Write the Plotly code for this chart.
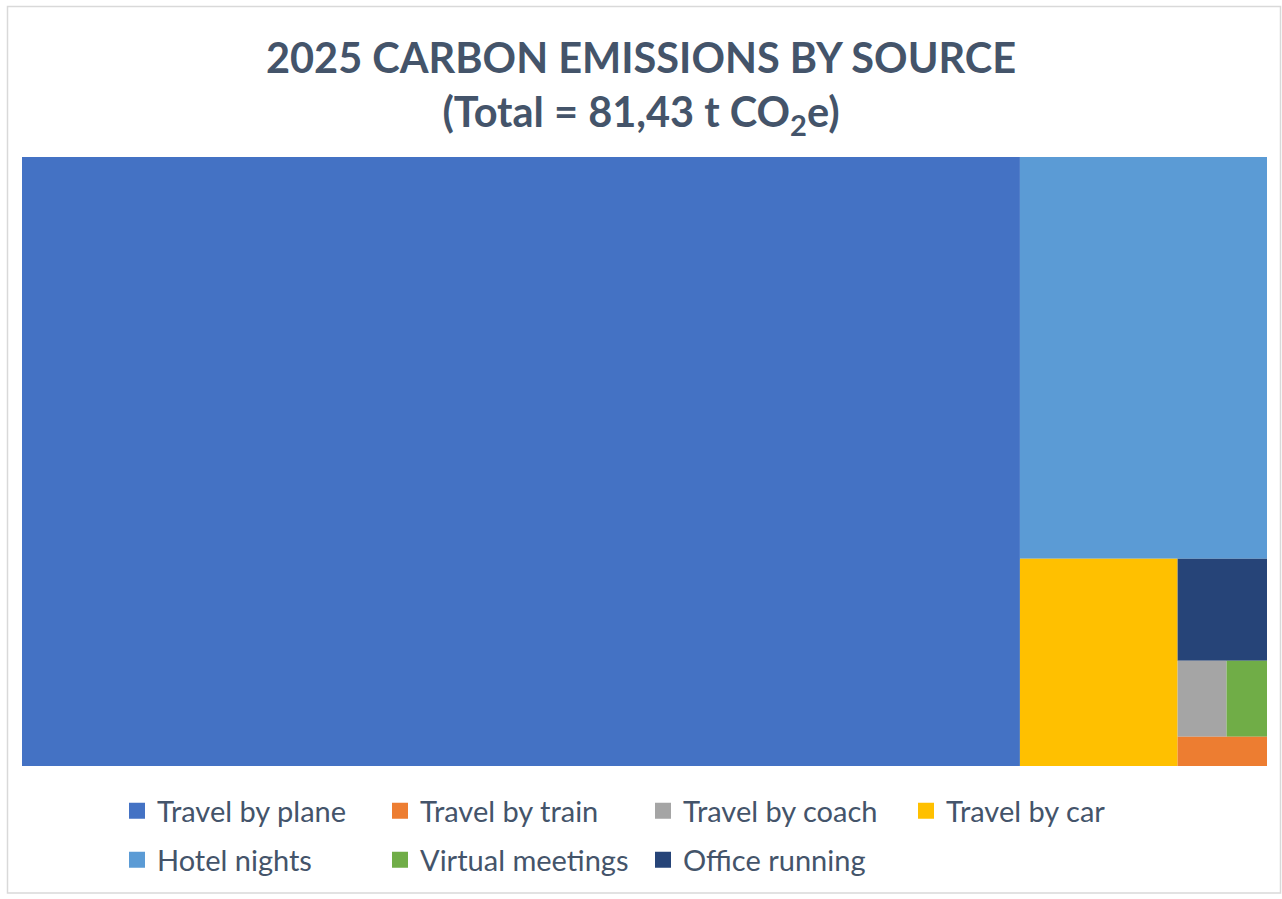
import plotly.graph_objects as go

# Data (t CO2e)
categories = ["Travel by plane", "Travel by train", "Travel by coach", "Travel by car",
              "Hotel nights", "Virtual meetings", "Office running"]
emissions = [65.27, 0.28, 0.40, 3.51, 10.66, 0.33, 0.98]
colors = ["#4472C4", "#ED7D31", "#A5A5A5", "#FFC000", "#5B9BD5", "#70AD47", "#264478"]
legend_row = ["legend", "legend", "legend", "legend", "legend2", "legend2", "legend2"]

W, H = 1282, 899
FONT = "Lato"
TXT = "#44546A"

fig = go.Figure()
fig.add_trace(go.Treemap(
    labels=categories,
    parents=[""] * len(categories),
    values=emissions,
    marker=dict(colors=colors, line=dict(width=0), pad=dict(t=0, l=0, r=0, b=0)),
    tiling=dict(packing="squarify", squarifyratio=1, pad=0),
    textinfo="none",
    pathbar=dict(visible=False),
    sort=True,
    branchvalues="remainder",
    domain=dict(x=[22 / W, 1267 / W], y=[1 - 766 / H, 1 - 157 / H]),
    hovertemplate="%{label}: %{value:.2f} t CO2e<extra></extra>",
))

for name, col, lg in zip(categories, colors, legend_row):
    fig.add_trace(go.Scatter(
        x=[None], y=[None], mode="markers", name=name,
        marker=dict(symbol="square", size=18, color=col),
        legend=lg, showlegend=True,
    ))

legend_common = dict(
    orientation="h", xanchor="left", yanchor="middle",
    font=dict(family=FONT, size=29, color=TXT),
    entrywidth=218, entrywidthmode="pixels",
    itemsizing="trace", bgcolor="rgba(0,0,0,0)",
    traceorder="normal",
)
fig.update_layout(
    width=W, height=H,
    margin=dict(l=0, r=0, t=0, b=0),
    paper_bgcolor="white", plot_bgcolor="white",
    title=dict(
        text="<b>2025 CARBON EMISSIONS BY SOURCE<br>(Total = 81,43 t CO<sub>2</sub>e)</b>",
        x=0.5, xanchor="center", y=1 - 73 / H, yanchor="middle",
        font=dict(family=FONT, size=41.5, color=TXT),
    ),
    xaxis=dict(visible=False), yaxis=dict(visible=False),
    legend=dict(x=117 / W, y=1 - 811 / H, **legend_common),
    legend2=dict(x=117 / W, y=1 - 860 / H, **legend_common),
    shapes=[dict(type="rect", xref="paper", yref="paper",
                 x0=7.5 / W, x1=1280.5 / W, y0=1 - 893 / H, y1=1 - 6.5 / H,
                 line=dict(color="#D9D9D9", width=1.5), layer="below")],
)

fig.write_html("out.html")
